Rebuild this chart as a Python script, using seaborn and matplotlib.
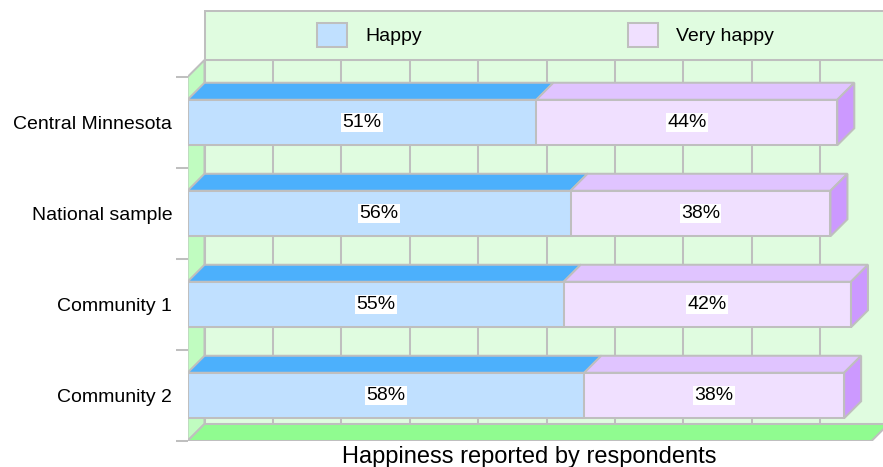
import seaborn as sns
import pandas as pd
import matplotlib.pyplot as plt
from matplotlib.patches import Polygon, Rectangle, Patch

categories = ["Central Minnesota", "National sample", "Community 1", "Community 2"]
happy = [51, 56, 55, 58]
very_happy = [44, 38, 42, 38]
series_names = ["Happy", "Very happy"]
x_title = "Happiness reported by respondents"

df = pd.DataFrame({"group": categories, "happy": happy, "very_happy": very_happy})
df["total"] = df["happy"] + df["very_happy"]

plt.rcParams["font.family"] = ["Liberation Sans", "DejaVu Sans"]

edge = "#bfbfbf"
lw = 1.45
wall_c = "#e0fce0"
side_wall_c = "#c0fcc0"
floor_c = "#90fc90"
happy_front, happy_top = "#c0e0ff", "#4cb0fc"
vh_front, vh_top, vh_side = "#f0e0ff", "#e0c4ff", "#cc99ff"

W, H = 883, 467
fig = plt.figure(figsize=(W / 100, H / 100), dpi=100)
ax = fig.add_axes([187.5 / W, (H - 441) / H, (W - 187.5) / W, (441 - 10) / H])

xmax = (W - 187.5) / 6.84
ytop = 3.5 - (441 - 10) / 91
dx = 17 / 6.84
dy = 17 / 91

# back wall, legend panel, left wall, floor
ax.add_patch(Rectangle((dx, -0.5 - dy), 120, 4, facecolor=wall_c, edgecolor=edge, lw=lw, zorder=0.1))
ax.add_patch(Rectangle((dx, 3.5 - (441 - 11) / 91), 120, (441 - 11) / 91 - 4 - dy,
                       facecolor=wall_c, edgecolor=edge, lw=lw, zorder=0.1))
ax.add_patch(Polygon([(0, -0.5), (dx, -0.5 - dy), (dx, 3.5 - dy), (0, 3.5)],
                     facecolor=side_wall_c, edgecolor=edge, lw=lw, zorder=0.2))
ax.vlines([dx + 10 * k for k in range(11)], -0.5 - dy, 3.5 - dy, colors=edge, lw=lw, zorder=0.15)
ax.add_patch(Polygon([(0, 3.5), (100, 3.5), (100 + dx, 3.5 - dy), (dx, 3.5 - dy)],
                     facecolor=floor_c, edgecolor=edge, lw=lw, zorder=0.3))

# front faces
sns.barplot(data=df, x="total", y="group", color=vh_front, saturation=1, width=0.5,
            edgecolor=edge, linewidth=lw, ax=ax, zorder=1)
sns.barplot(data=df, x="happy", y="group", color=happy_front, saturation=1, width=0.5,
            edgecolor=edge, linewidth=lw, ax=ax, zorder=1.1)

# 3D top and side faces
for tot_bar, hap_bar, v in zip(ax.containers[0], ax.containers[1], very_happy):
    yt = hap_bar.get_y()
    yb = yt + hap_bar.get_height()
    h = hap_bar.get_width()
    t = tot_bar.get_width()
    ax.add_patch(Polygon([(0, yt), (h, yt), (h + dx, yt - dy), (dx, yt - dy)],
                         facecolor=happy_top, edgecolor=edge, lw=lw, zorder=1.2))
    ax.add_patch(Polygon([(h, yt), (t, yt), (t + dx, yt - dy), (h + dx, yt - dy)],
                         facecolor=vh_top, edgecolor=edge, lw=lw, zorder=1.2))
    ax.add_patch(Polygon([(t, yt), (t + dx, yt - dy), (t + dx, yb - dy), (t, yb)],
                         facecolor=vh_side, edgecolor=edge, lw=lw, zorder=1.2))
    yc = (yt + yb) / 2
    box = dict(facecolor="white", edgecolor="none", pad=1)
    ax.text(h / 2, yc, f"{h:.0f}%", ha="center", va="center", fontsize=14, bbox=box, zorder=3)
    ax.text(h + v / 2, yc, f"{v}%", ha="center", va="center", fontsize=14, bbox=box, zorder=3)

ax.set_xlim(0, xmax)
ax.set_ylim(3.5, ytop)
for s in ax.spines.values():
    s.set_visible(False)
ax.set_xticks([])
ax.set_yticks(range(len(categories)))
ax.set_yticklabels(categories, fontsize=14)
ax.set_yticks([-0.5, 0.5, 1.5, 2.5, 3.5], minor=True)
ax.tick_params(axis="y", which="major", length=0, pad=11)
ax.tick_params(axis="y", which="minor", length=8.6, width=lw, color=edge)
ax.set_ylabel("")
ax.set_xlabel(x_title, fontsize=17)
ax.xaxis.set_label_coords(50 / xmax, -0.011)

handles = [Patch(facecolor=happy_front, edgecolor=edge, lw=lw),
           Patch(facecolor=vh_front, edgecolor=edge, lw=lw)]
fig.legend(handles, series_names, loc="center", bbox_to_anchor=(545.5 / W, 1 - 35 / H),
           ncol=2, frameon=False, fontsize=14, handlelength=1.54, handleheight=1.54,
           handletextpad=0.95, columnspacing=10.6)

fig.savefig("out.png", dpi=100)
